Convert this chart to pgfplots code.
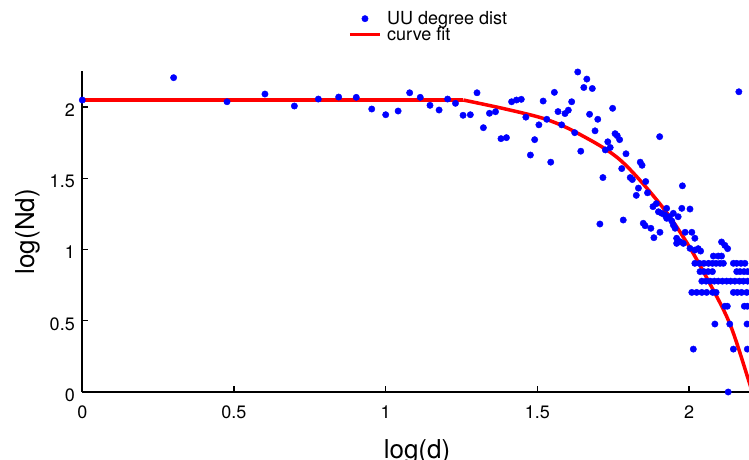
\documentclass[border=0pt]{standalone}
\usepackage{pgfplots}
\pgfplotsset{compat=1.18}
\usepackage{fontspec}
\setmainfont{TeX Gyre Heros}
\pgfplotsset{
  mydot/.style={legend image code/.code={\draw[mark repeat=2,mark phase=2,##1] plot coordinates {(0pt,0pt) (15pt,0pt) (30pt,0pt)};}},
  myline/.style={legend image code/.code={\draw[##1] (0pt,0pt) -- (30pt,0pt);}}
}
\pgfplotstableread{
x y
0 2.049
0.301 2.206
0.477 2.037
0.602 2.091
0.699 2.007
0.778 2.056
0.845 2.070
0.903 2.068
0.954 1.986
1.000 1.946
1.041 1.972
1.079 2.100
1.114 2.068
1.146 2.012
1.176 1.979
1.204 2.056
1.230 2.026
1.255 1.942
1.279 1.946
1.301 2.100
1.322 1.855
1.342 1.956
1.362 1.967
1.633 2.246
1.663 2.196
1.653 2.137
1.681 2.130
2.164 2.107
1.556 2.103
1.415 2.037
1.431 2.049
1.447 2.054
1.519 2.042
1.613 2.037
1.568 1.968
1.591 1.954
1.602 1.978
1.748 1.991
1.462 1.929
1.531 1.914
1.672 1.949
1.699 1.914
1.505 1.875
1.580 1.875
1.623 1.820
1.690 1.833
1.756 1.813
1.763 1.799
1.771 1.771
1.903 1.792
1.380 1.778
1.398 1.785
1.491 1.771
1.732 1.756
1.740 1.716
1.724 1.699
1.643 1.690
1.792 1.672
1.477 1.663
1.544 1.613
1.839 1.613
1.845 1.591
1.778 1.568
1.806 1.505
1.813 1.491
1.716 1.505
1.857 1.477
1.978 1.447
1.833 1.431
1.826 1.380
1.863 1.398
1.881 1.301
1.892 1.322
1.899 1.265
1.910 1.254
1.921 1.242
1.926 1.219
1.935 1.230
1.943 1.200
1.948 1.172
1.954 1.149
1.926 1.289
1.948 1.254
1.964 1.230
1.976 1.289
2.003 1.284
1.849 1.184
1.855 1.167
1.874 1.149
1.904 1.121
1.884 1.083
1.959 1.079
1.970 1.055
1.981 1.043
1.959 1.043
1.987 1.121
2.009 1.121
2.019 1.079
2.003 1.008
2.019 0.996
1.706 1.179
1.783 1.207
2.030 1.006
2.038 0.989
2.107 1.053
2.118 1.029
2.127 1.006
2.080 0.954
2.096 0.954
2.107 0.954
2.019 0.903
2.034 0.903
2.049 0.903
2.064 0.903
2.077 0.903
2.089 0.903
2.102 0.903
2.113 0.903
2.146 0.903
2.157 0.903
2.171 0.903
2.184 0.903
2.036 0.845
2.049 0.845
2.063 0.845
2.077 0.845
2.157 0.845
2.168 0.845
2.181 0.845
2.193 0.845
2.042 0.778
2.056 0.778
2.069 0.778
2.083 0.778
2.096 0.778
2.110 0.778
2.124 0.778
2.137 0.778
2.151 0.778
2.166 0.778
2.179 0.778
2.193 0.778
2.009 0.699
2.025 0.699
2.042 0.699
2.058 0.699
2.078 0.699
2.089 0.699
2.146 0.699
2.159 0.699
2.173 0.699
2.190 0.699
2.118 0.602
2.126 0.602
2.182 0.602
2.192 0.602
2.085 0.477
2.134 0.477
2.191 0.477
2.014 0.301
2.146 0.301
2.192 0.301
2.129 0
}\degdata
\pgfplotstableread{
x y
0 2.049
1.256 2.049
}\fitflat
\pgfplotstableread{
x y
1.256 2.049
1.399 1.984
1.531 1.912
1.640 1.808
1.772 1.630
1.904 1.320
1.992 1.050
2.066 0.770
2.135 0.475
2.195 0.090
2.225 -0.12
}\fitcurve
\begin{document}
\begin{tikzpicture}
\useasboundingbox (-82.3pt,-67pt) rectangle (666.7pt,392pt);
\clip (-82.3pt,-67pt) rectangle (666.7pt,392pt);
\begin{axis}[
  at={(0pt,0pt)}, anchor=south west,
  scale only axis, width=697.8pt, height=320.6pt,
  xmin=0, xmax=2.3, ymin=0, ymax=2.25,
  axis x line*=bottom, axis y line*=left,
  axis line style={line width=1.6pt, -, black},
  tick align=inside, major tick length=6pt, tick style={line width=1.2pt, black},
  xtick={0,0.5,1,1.5,2}, ytick={0,0.5,1,1.5,2},
  /pgf/number format/assume math mode=true,
  tick label style={font=\fontsize{18}{20}\selectfont},
  xticklabel style={yshift=-10pt},
  yticklabel style={xshift=-4pt, yshift=-3pt},
  xlabel={log(d)}, ylabel={log(Nd)},
  label style={font=\fontsize{26}{28}\selectfont},
  xlabel style={at={(axis description cs:0.4797,-0.207)}, anchor=base},
  ylabel style={at={(axis description cs:-0.0778,0.5)}, anchor=center},
  legend style={draw=none, fill=none, at={(axis description cs:0.3808,1.14)}, anchor=west,
    font=\fontsize{18}{18}\selectfont, inner sep=0pt, row sep=0pt, column sep=5pt,
    nodes={inner sep=0.5pt}},
  legend cell align=left,
]
\addplot[only marks, mark=*, mark size=3.2pt, mark options={fill=blue, draw=blue}, mydot]
  table[x=x,y=y] {\degdata};
\addlegendentry{UU degree dist}
\addplot[red, line width=3.5pt, no marks, forget plot] table[x=x,y=y] {\fitflat};
\addplot[red, line width=3.5pt, no marks, smooth, tension=0.55, myline]
  table[x=x,y=y] {\fitcurve};
\addlegendentry{curve fit}
\end{axis}
\end{tikzpicture}
\end{document}
